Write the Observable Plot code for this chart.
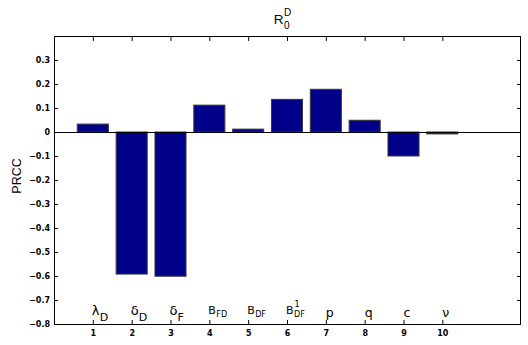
<!DOCTYPE html>
<html><head><meta charset="utf-8">
<script src="https://cdn.jsdelivr.net/npm/d3@7"></script>
<script src="https://cdn.jsdelivr.net/npm/@observablehq/plot@0.6"></script>
<style>body{margin:0;background:#fff}</style>
</head><body><div id="chart"></div>
<script>
// ---- data ----
const params = [1, 2, 3, 4, 5, 6, 7, 8, 9, 10];
const prcc = [0.033, -0.592, -0.601, 0.112, 0.012, 0.136, 0.178, 0.049, -0.100, -0.008];
const labelMain = ["λ", "δ", "δ", "B", "B", "B", "p", "q", "c", "ν"];
const labelSub  = ["D", "D", "F", "FD", "DF", "DF", "", "", "", ""];
const labelSup  = ["", "", "", "", "", "1", "", "", "", ""];
const yTicks = [-0.8, -0.7, -0.6, -0.5, -0.4, -0.3, -0.2, -0.1, 0, 0.1, 0.2, 0.3];
const xTicks = params;
const titleMain = "R", titleSub = "0", titleSup = "D";
const yLabel = "PRCC";

const data = params.map((p, i) => ({p, v: prcc[i], main: labelMain[i], sub: labelSub[i], sup: labelSup[i]}));
const isGreek = d => /[λδ]/.test(d.main);
const isB = d => d.main === "B";
const isPlain = d => !d.sub && !d.sup;
const fmt = d => d === 0 ? "0" : d3.format(".1f")(d);
const tickFont = {fontFamily: "DejaVu Sans", fontWeight: "bold", fontSize: 8};

const chart = Plot.plot({
  width: 528, height: 345,
  marginLeft: 54, marginRight: 8, marginTop: 36, marginBottom: 21,
  style: {background: "#fff", color: "#000", fontFamily: "DejaVu Sans"},
  x: {domain: [0, 12]},
  y: {domain: [-0.8, 0.4]},
  marks: [
    Plot.rect(data, {x1: d => d.p - 0.4, x2: d => d.p + 0.4, y1: () => 0, y2: "v",
      fill: "#000088", stroke: "#3a3a3a", strokeWidth: 1}),
    Plot.ruleY([0], {stroke: "#000", strokeWidth: 1}),
    Plot.frame({stroke: "#000", strokeWidth: 1}),
    Plot.axisY(yTicks, {anchor: "left", tickSize: -4, fill: "none", label: null}),
    Plot.axisY(yTicks, {anchor: "right", tickSize: -4, fill: "none", label: null}),
    Plot.axisX(xTicks, {anchor: "bottom", tickSize: -4, fill: "none", label: null}),
    Plot.axisX(xTicks, {anchor: "top", tickSize: -4, fill: "none", label: null}),
    Plot.axisY(yTicks, {anchor: "left", tickSize: 0, tickPadding: 4.5, tickFormat: fmt, label: null, ...tickFont}),
    Plot.axisX(xTicks, {anchor: "bottom", tickSize: 0, tickPadding: 6, tickFormat: d => String(d), label: null, ...tickFont}),
    // y label
    Plot.text([yLabel], {frameAnchor: "left", text: d => d, rotate: -90, dx: -38, dy: -4.5,
      fontSize: 12.5, textAnchor: "middle", lineAnchor: "middle", fontFamily: "Liberation Sans"}),
    // title
    Plot.text([titleMain], {frameAnchor: "top", text: d => d, textAnchor: "end", lineAnchor: "bottom",
      dx: -4, dy: -12.5, fontSize: 13.5, fontFamily: "Liberation Sans"}),
    Plot.text([titleSub], {frameAnchor: "top", text: d => d, textAnchor: "start", lineAnchor: "bottom",
      dx: -3.5, dy: -7.5, fontSize: 10, fontFamily: "Liberation Sans"}),
    Plot.text([titleSup], {frameAnchor: "top", text: d => d, textAnchor: "start", lineAnchor: "bottom",
      dx: -3.5, dy: -20.5, fontSize: 10, fontFamily: "Liberation Sans"}),
    // parameter labels: greek
    Plot.text(data.filter(isGreek), {x: "p", frameAnchor: "bottom", text: "main", textAnchor: "start",
      lineAnchor: "bottom", dx: -1.5, dy: -10, fontSize: 13}),
    Plot.text(data.filter(isGreek), {x: "p", frameAnchor: "bottom", text: "sub", textAnchor: "start",
      lineAnchor: "bottom", dx: 6.5, dy: -4, fontSize: 11}),
    // B labels
    Plot.text(data.filter(isB), {x: "p", frameAnchor: "bottom", text: "main", textAnchor: "start",
      lineAnchor: "bottom", dx: -1.5, dy: -10.7, fontSize: 11}),
    Plot.text(data.filter(isB), {x: "p", frameAnchor: "bottom", text: "sub", textAnchor: "start",
      lineAnchor: "bottom", dx: 6.5, dy: -7.3, fontSize: 8}),
    Plot.text(data.filter(d => d.sup), {x: "p", frameAnchor: "bottom", text: "sup", textAnchor: "start",
      lineAnchor: "bottom", dx: 7, dy: -17.5, fontSize: 8}),
    // plain labels
    Plot.text(data.filter(isPlain), {x: "p", frameAnchor: "bottom", text: "main", textAnchor: "start",
      lineAnchor: "bottom", dx: -0.5, dy: -8, fontSize: 12.5})
  ]
});
document.getElementById("chart").appendChild(chart);
</script>
</body></html>
